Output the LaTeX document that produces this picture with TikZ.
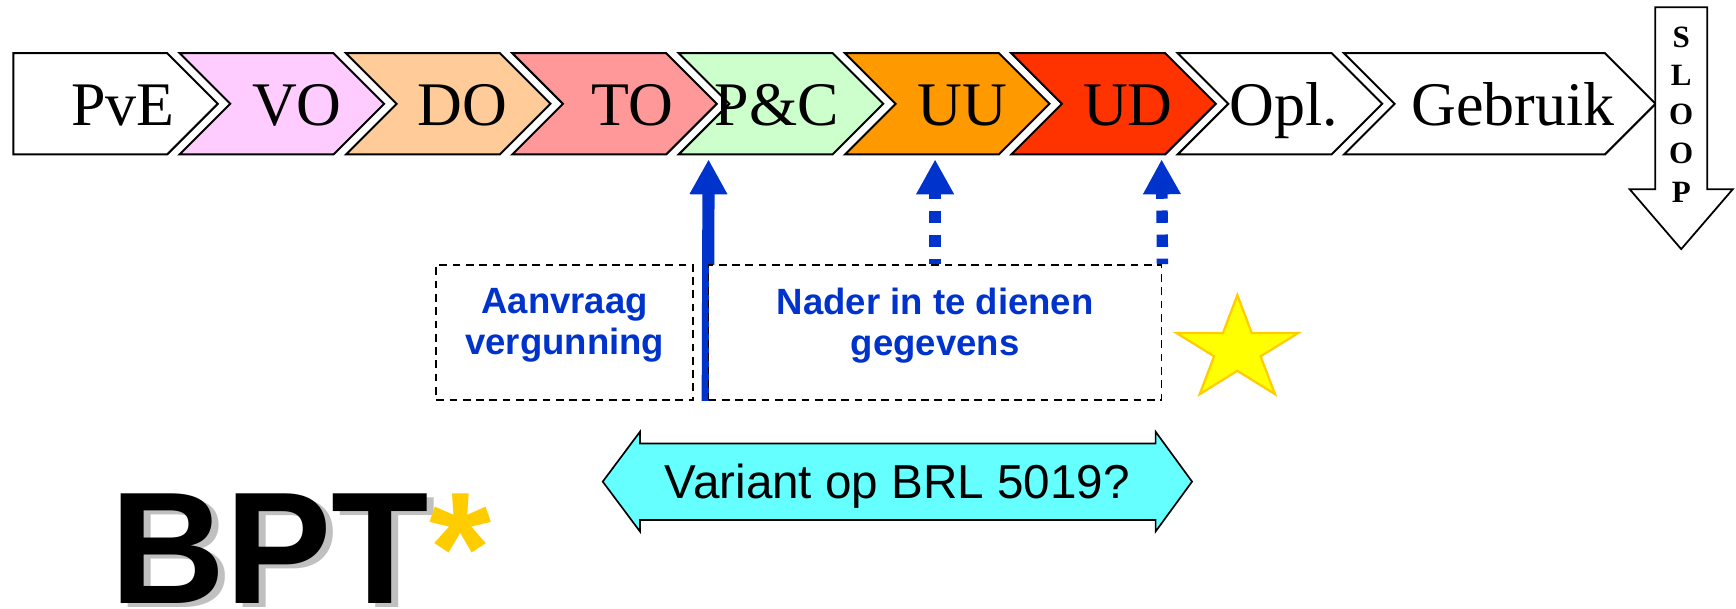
\documentclass[tikz,border=0pt]{standalone}
\usepackage{fontspec}
\setmainfont{Liberation Serif}
\newfontfamily\arialf{Liberation Sans}
\usetikzlibrary{arrows.meta}
\definecolor{cvo}{HTML}{FFCCFF}
\definecolor{cdo}{HTML}{FFCC99}
\definecolor{cto}{HTML}{FF9999}
\definecolor{cpc}{HTML}{CCFFCC}
\definecolor{cuu}{HTML}{FF9900}
\definecolor{cud}{HTML}{FF3300}
\definecolor{bblue}{HTML}{0033CC}
\definecolor{cyanf}{HTML}{66FFFF}
\definecolor{staryel}{HTML}{FFFF00}
\definecolor{starline}{HTML}{FFCC00}
\definecolor{shad}{HTML}{C0C0C0}
\definecolor{goldast}{HTML}{FFCC00}
\pgfdeclarelayer{bg}
\pgfsetlayers{bg,main}
\begin{document}
\begin{tikzpicture}[x=1pt,y=-1pt,
  chev/.style={draw=black, line width=1.8pt, line join=miter},
  lab/.style={font=\fontsize{56}{60}\selectfont, inner sep=0pt, anchor=base},
  dbox/.style={draw=black, dash pattern=on 7pt off 5pt, line width=1.5pt, fill=white, inner sep=0pt, minimum height=121.9pt},
  btxt/.style={font=\arialf\bfseries\fontsize{33}{37}\selectfont, text=bblue, align=center, inner sep=0pt},
  solarr/.style={draw=bblue, line width=11pt, {Triangle[width=32pt,length=31.6pt]}-},
  dasharr/.style={draw=bblue, line width=10.3pt, dash pattern=on 11.1pt off 10.6pt, dash phase=5.1pt, {Triangle[width=32pt,length=31.6pt]}-},
  starst/.style={fill=staryel, draw=starline, line width=2pt, line join=miter},
  dblarr/.style={fill=cyanf, draw=black, line width=1.5pt, line join=miter},
  bptst/.style={font=\arialf\bfseries\fontsize{144}{150}\selectfont, inner sep=0pt, anchor=base west}
]
\useasboundingbox (0,0) rectangle (1568,550);

% phase chevrons
\draw[chev, fill=white] (12,48) -- (151,48) -- (196.75,93.75) -- (151,139.5) -- (12,139.5) -- cycle;
\foreach \L/\W/\c in {162.2/139/cvo, 312.5/139/cdo, 462.7/139/cto, 613/139/cpc, 763.2/139/cuu, 913.4/139/cud, 1063.7/139/white, 1213.9/235.7/white}
  \draw[chev, fill=\c] (\L,48) -- ({\L+\W},48) -- ({\L+\W+45.75},93.75) -- ({\L+\W},139.5) -- (\L,139.5) -- ({\L+45.75},93.75) -- cycle;

\node[lab] (pve) at (110.9,113) {PvE};
\node[lab] (vo)  at (268.1,113) {VO};
\node[lab] (do)  at (417.3,113) {DO};
\node[lab] (to)  at (571.5,113) {TO};
\node[lab] (pc)  at (701.8,113) {P\&C};
\node[lab] (uu)  at (869.5,113) {UU};
\node[lab] (ud)  at (1018.8,113) {UD};
\node[lab] (opl) at (1159.5,113) {Opl.};
\node[lab] (geb) at (1366.8,113) {Gebruik};

% SLOOP arrow
\draw[chev, line width=1.6pt, fill=white] (1495,6.6) -- (1542,6.6) -- (1542,171) -- (1565,171) -- (1518.5,225) -- (1472,171) -- (1495,171) -- cycle;
\node[font=\bfseries\fontsize{28}{35}\selectfont, align=center, inner sep=0pt] (sloop) at (1518.5,103.4) {S\\L\\O\\O\\P};

% dashed boxes
\node[dbox, minimum width=232pt] (b1) at (510,300.35) {};
\node[dbox, minimum width=409.2pt] (b2) at (844.6,300.35) {};
\node[btxt] (t1) at (510,294) {Aanvraag\\vergunning};
\node[btxt] (t2) at (844.6,294) {Nader in te dienen\\gegevens};

% arrow tips
\coordinate (a1) at (640,143.9);
\coordinate (a2) at (844.6,143.9);
\coordinate (a3) at (1049.2,143.9);
\begin{pgfonlayer}{bg}
\draw[solarr] (a1) -- (b2.south west);
\draw[dasharr] (a2) -- (a2 |- b2.north);
\draw[dasharr] (a3) -- (b2.north east);
\end{pgfonlayer}

% star
\begin{scope}[shift={(1117.6,316)}, xscale=1.17, yscale=-1]
\draw[starst] (90:49.5) -- (126:18.9) -- (162:49.5) -- (198:18.9) -- (234:49.5) -- (270:18.9) -- (306:49.5) -- (342:18.9) -- (18:49.5) -- (54:18.9) -- cycle;
\end{scope}

% double arrow
\draw[dblarr] (544.4,435) -- (578,390) -- (578,400.5) -- (1043.8,400.5) -- (1043.8,390) -- (1076.7,435) -- (1043.8,480) -- (1043.8,469.7) -- (578,469.7) -- (578,480) -- cycle;
\node[font=\arialf\fontsize{43}{48}\selectfont, inner sep=0pt, anchor=base] (va) at (810.5,450) {Variant op BRL 5019?};

% BPT logo
\node[bptst, text=shad] (bpts) at (105.5,549) {BPT};
\node[bptst] (bpt) at (99.5,545) {BPT\textcolor{goldast}{*}};
\end{tikzpicture}
\end{document}
